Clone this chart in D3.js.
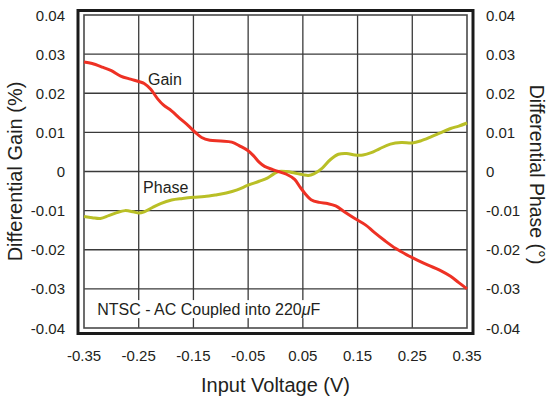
<!DOCTYPE html>
<html>
<head>
<meta charset="utf-8">
<script src="https://cdn.jsdelivr.net/npm/d3@7"></script>
<style>
  body { margin: 0; background: #fff; }
  text { font-family: "Liberation Sans", Arial, Helvetica, sans-serif; fill: #231f20; }
</style>
</head>
<body>
<svg id="chart" width="548" height="396"></svg>
<script>
// input voltage (V) and differential gain (%)
const gainV = [-0.35, -0.335, -0.315, -0.30, -0.283, -0.265, -0.25, -0.24, -0.228, -0.215,
  -0.205, -0.19, -0.175, -0.16, -0.145, -0.135, -0.12, -0.10, -0.08, -0.065,
  -0.05, -0.04, -0.03, -0.02, -0.005, 0.005, 0.02, 0.035, 0.045, 0.055,
  0.065, 0.08, 0.095, 0.11, 0.125, 0.145, 0.165, 0.18, 0.20, 0.22,
  0.24, 0.26, 0.28, 0.30, 0.32, 0.335, 0.35];
const gainVal = [0.0280, 0.0276, 0.0266, 0.0258, 0.0244, 0.0236, 0.0230, 0.0225, 0.0210, 0.0185,
  0.0170, 0.0155, 0.0136, 0.0118, 0.0098, 0.0087, 0.0080, 0.0078, 0.0075, 0.0065,
  0.0053, 0.0040, 0.0024, 0.0013, 0.0005, 0.0000, -0.0007, -0.0020, -0.0040, -0.0058,
  -0.0072, -0.0079, -0.0082, -0.0088, -0.0102, -0.0120, -0.0137, -0.0155, -0.0177, -0.0197,
  -0.0213, -0.0227, -0.0240, -0.0252, -0.0268, -0.0284, -0.0300];

// input voltage (V) and differential phase (deg)
const phaseV = [-0.35, -0.335, -0.32, -0.305, -0.29, -0.275, -0.26, -0.25, -0.24, -0.225,
  -0.21, -0.19, -0.17, -0.15, -0.13, -0.11, -0.09, -0.07, -0.05, -0.03,
  -0.015, -0.005, 0.005, 0.02, 0.035, 0.05, 0.06, 0.07, 0.085, 0.10,
  0.115, 0.13, 0.145, 0.16, 0.175, 0.19, 0.21, 0.23, 0.25, 0.265,
  0.285, 0.30, 0.32, 0.335, 0.35];
const phaseVal = [-0.0115, -0.0118, -0.0120, -0.0113, -0.0105, -0.0100, -0.0103, -0.0106, -0.0103, -0.0092,
  -0.0082, -0.0073, -0.0069, -0.0066, -0.0064, -0.0060, -0.0055, -0.0047, -0.0035, -0.0025,
  -0.0017, -0.0008, 0.0000, 0.0000, -0.0004, -0.0008, -0.0010, -0.0006, 0.0008, 0.0030,
  0.0044, 0.0046, 0.0042, 0.0042, 0.0048, 0.0058, 0.0070, 0.0074, 0.0073, 0.0078,
  0.0089, 0.0098, 0.0110, 0.0116, 0.0124];

const xTicks = [-0.35, -0.25, -0.15, -0.05, 0.05, 0.15, 0.25, 0.35];
const yTicks = [0.04, 0.03, 0.02, 0.01, 0, -0.01, -0.02, -0.03, -0.04];

// curve labels: [text, x (V), y]
const curveLabels = [["Gain", -0.233, 0.0221], ["Phase", -0.242, -0.0055]];
const noteText = "NTSC - AC Coupled into 220";
const notePos = [-0.326, -0.0367];

const plot = {left: 84, right: 467, top: 15, bottom: 328};

const svg = d3.select('#chart');

const x = d3.scaleLinear().domain([-0.35, 0.35]).range([plot.left, plot.right]);
const y = d3.scaleLinear().domain([-0.04, 0.04]).range([plot.bottom, plot.top]);

// outer thick frame
svg.append('rect')
    .attr('x', plot.left - 6).attr('y', plot.top - 4.5)
    .attr('width', plot.right - plot.left + 12).attr('height', plot.bottom - plot.top + 10)
    .attr('fill', 'none').attr('stroke', '#1a1a1a').attr('stroke-width', 3);

// grid
const grid = svg.append('g');
grid.selectAll('.vg')
  .data(xTicks.slice(1, -1))
  .enter().append('line')
    .attr('x1', d => x(d)).attr('x2', d => x(d))
    .attr('y1', plot.top).attr('y2', plot.bottom)
    .attr('stroke', '#3a3a3a').attr('stroke-width', 1.3);
grid.selectAll('.hg')
  .data(yTicks.slice(1, -1))
  .enter().append('line')
    .attr('y1', d => y(d)).attr('y2', d => y(d))
    .attr('x1', plot.left).attr('x2', plot.right)
    .attr('stroke', '#3a3a3a').attr('stroke-width', 1.3);

// inner frame
svg.append('rect')
    .attr('x', plot.left).attr('y', plot.top)
    .attr('width', plot.right - plot.left).attr('height', plot.bottom - plot.top)
    .attr('fill', 'none').attr('stroke', '#4a4a4a').attr('stroke-width', 1.6);

// note with white box behind it
const note = svg.append('text')
    .attr('x', x(notePos[0])).attr('y', y(notePos[1]))
    .attr('font-size', 16)
    .text(noteText);
note.append('tspan').attr('font-style', 'italic').text('\u03bc');
note.append('tspan').text('F');
const bb = note.node().getBBox();
svg.insert('rect', 'text')
    .attr('x', bb.x - 6).attr('y', bb.y - 1)
    .attr('width', bb.width + 10).attr('height', bb.height + 1)
    .attr('fill', '#fff');

const line = d3.line()
    .x(d => x(d[0]))
    .y(d => y(d[1]))
    .curve(d3.curveCatmullRom.alpha(0.5));

svg.append('path')
    .datum(d3.zip(phaseV, phaseVal))
    .attr('d', line)
    .attr('fill', 'none')
    .attr('stroke', '#b9bf26')
    .attr('stroke-width', 3)
    .attr('stroke-linejoin', 'round');

svg.append('path')
    .datum(d3.zip(gainV, gainVal))
    .attr('d', line)
    .attr('fill', 'none')
    .attr('stroke', '#ee3124')
    .attr('stroke-width', 3)
    .attr('stroke-linejoin', 'round');

svg.selectAll('.clabel')
  .data(curveLabels)
  .enter().append('text')
    .attr('x', d => x(d[1]))
    .attr('y', d => y(d[2]))
    .attr('font-size', 16)
    .text(d => d[0]);

// tick labels
const fmt = d => d === 0 ? '0' : d3.format('.2f')(d).replace('\u2212', '-');
svg.selectAll('.yl')
  .data(yTicks)
  .enter().append('text')
    .attr('x', 65).attr('y', d => y(d) + 5.5)
    .attr('text-anchor', 'end').attr('font-size', 15)
    .text(fmt);
svg.selectAll('.yr')
  .data(yTicks)
  .enter().append('text')
    .attr('x', 486).attr('y', d => y(d) + 5.5)
    .attr('font-size', 15)
    .text(fmt);
svg.selectAll('.xl')
  .data(xTicks)
  .enter().append('text')
    .attr('x', d => x(d)).attr('y', 361)
    .attr('text-anchor', 'middle').attr('font-size', 15)
    .text(fmt);

// axis titles
svg.append('text')
    .attr('transform', 'translate(22,' + y(0) + ') rotate(-90)')
    .attr('text-anchor', 'middle').attr('font-size', 20)
    .text('Differential Gain (%)');
svg.append('text')
    .attr('transform', 'translate(530,' + (y(0) + 3) + ') rotate(90)')
    .attr('text-anchor', 'middle').attr('font-size', 19.5)
    .text('Differential Phase (\u00b0)');
svg.append('text')
    .attr('x', (plot.left + plot.right) / 2).attr('y', 392)
    .attr('text-anchor', 'middle').attr('font-size', 20)
    .text('Input Voltage (V)');
</script>
</body>
</html>
